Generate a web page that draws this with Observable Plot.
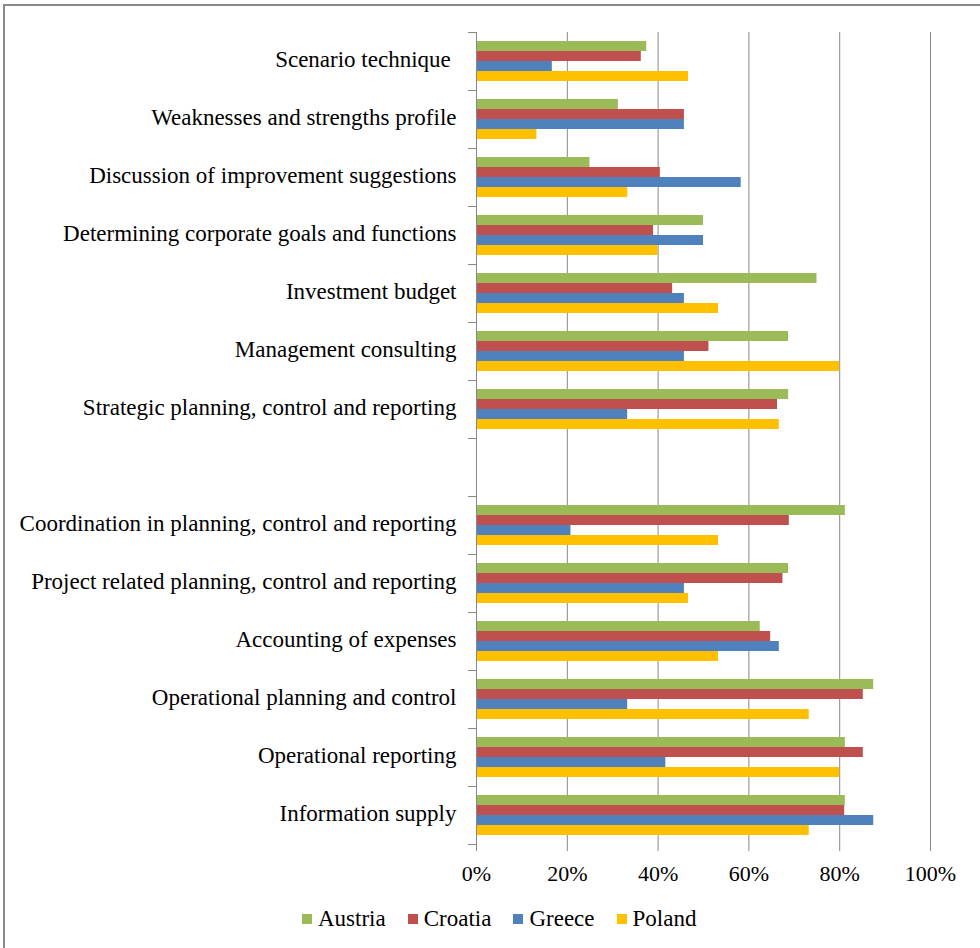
<!DOCTYPE html>
<html><head><meta charset="utf-8">
<script src="https://cdn.jsdelivr.net/npm/d3@7"></script>
<script src="https://cdn.jsdelivr.net/npm/@observablehq/plot@0.6"></script>
<style>
body{margin:0;background:#fff;}
#wrap{position:relative;width:980px;height:948px;overflow:hidden;font-family:'Liberation Serif','Times New Roman',serif;}
#border{position:absolute;left:3px;top:4px;width:990px;height:960px;border-top:2px solid #8a8a8a;border-left:2px solid #8a8a8a;pointer-events:none;}
#chart{position:absolute;left:0;top:0;}
#legend{position:absolute;left:302px;top:906px;height:26px;display:flex;align-items:center;font-size:23px;color:#000;white-space:nowrap;}
.item{display:flex;align-items:center;margin-right:22px;}
.sw{width:10px;height:10px;margin-right:6px;}
</style></head><body>
<div id="wrap"><div id="chart"></div><div id="legend"></div><div id="border"></div></div>
<script>
const categories = [
  "Scenario technique\u00a0",
  "Weaknesses and strengths profile",
  "Discussion of improvement suggestions",
  "Determining corporate goals and functions",
  "Investment budget",
  "Management consulting",
  "Strategic planning, control and reporting",
  "",
  "Coordination in planning, control and reporting",
  "Project related planning, control and reporting",
  "Accounting of expenses",
  "Operational planning and control",
  "Operational reporting",
  "Information supply"
];
const countries = ["Austria", "Croatia", "Greece", "Poland"];
const colors = ["#9BBB59", "#C0504D", "#4F81BD", "#FFC000"];
const austria = [37.5, 31.25, 25, 50, 75, 68.75, 68.75, null, 81.25, 68.75, 62.5, 87.5, 81.25, 81.25];
const croatia = [36.3, 45.8, 40.5, 39.0, 43.2, 51.2, 66.3, null, 68.9, 67.5, 64.8, 85.2, 85.2, 81.1];
const greece  = [16.7, 45.8, 58.3, 50, 45.8, 45.8, 33.3, null, 20.8, 45.8, 66.7, 33.3, 41.7, 87.5];
const poland  = [46.7, 13.3, 33.3, 40, 53.3, 80, 66.7, null, 53.3, 46.7, 53.3, 73.3, 80, 73.3];
const xTicks = [0, 20, 40, 60, 80, 100];

const series = [austria, croatia, greece, poland];
const table = categories.flatMap((c, i) => countries.map((k, j) => ({category: c, country: k, value: series[j][i]})));

const W = 980, H = 890, plotBottom = 844;
const ML = 476, MR = 50;
const gray = "#888888";
const chart = Plot.plot({
  width: W, height: H,
  marginLeft: ML, marginRight: MR, marginTop: 32, marginBottom: H - plotBottom,
  style: {fontFamily: "'Liberation Serif','Times New Roman',serif", fontSize: "22px", color: "#000", background: "transparent", overflow: "visible"},
  x: {domain: [0, 100]},
  y: {domain: countries, paddingInner: 0, paddingOuter: 0.72, axis: null},
  fy: {domain: categories, padding: 0, axis: null},
  color: {domain: countries, range: colors},
  marks: [
    Plot.gridX(xTicks, {stroke: gray, strokeOpacity: 1}),
    Plot.barX(table, {fy: "category", y: "country", x: "value", fill: "country"}),
    Plot.frame({anchor: "left", stroke: gray}),
    Plot.frame({anchor: "top", stroke: gray, insetLeft: -8, insetRight: W - ML - MR}),
    Plot.frame({anchor: "bottom", stroke: gray, insetLeft: -8, insetRight: W - ML - MR}),
    Plot.axisFy({anchor: "left", tickSize: 0, tickPadding: 20, fill: "#000", fontSize: 23, dy: -2, label: null}),
    Plot.axisX(xTicks, {anchor: "bottom", tickSize: 7, tickPadding: 14, stroke: gray, fill: "#000", line: true, tickFormat: d => d + "%", label: null})
  ]
});
document.getElementById("chart").appendChild(chart);

const legend = document.getElementById("legend");
countries.forEach((k, j) => {
  const it = document.createElement("div");
  it.className = "item";
  const sw = document.createElement("div");
  sw.className = "sw";
  sw.style.background = colors[j];
  const t = document.createElement("span");
  t.textContent = k;
  it.appendChild(sw); it.appendChild(t);
  legend.appendChild(it);
});
</script>
</body></html>
